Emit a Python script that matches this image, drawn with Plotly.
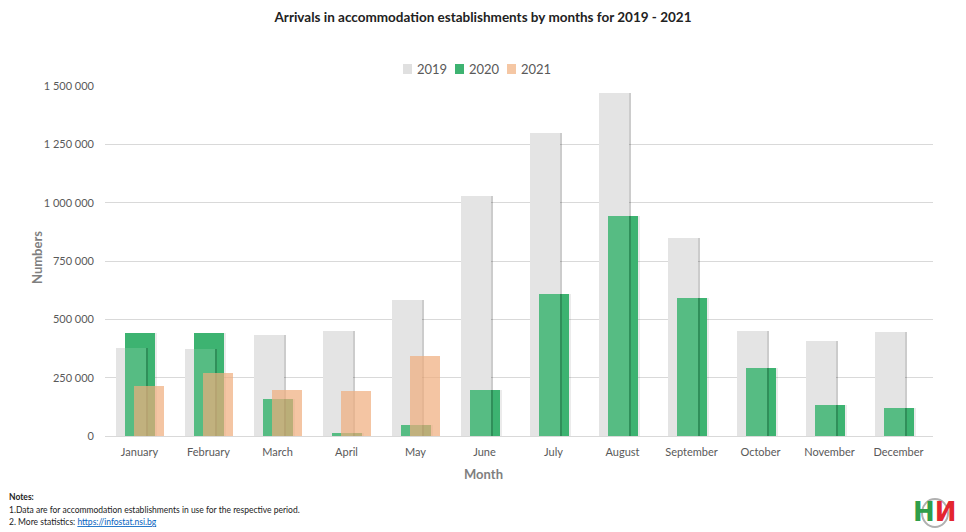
import plotly.graph_objects as go

# ---------------- data ----------------
months = ["January", "February", "March", "April", "May", "June", "July",
          "August", "September", "October", "November", "December"]
arrivals_2019 = [377000, 372000, 431000, 449000, 583000, 1027000, 1297000,
                 1469000, 847000, 452000, 408000, 446000]
arrivals_2020 = [440000, 441000, 159000, 12000, 48000, 197000, 608000,
                 944000, 591000, 291000, 133000, 119000]
arrivals_2021 = [214000, 270000, 197000, 193000, 344000, None, None,
                 None, None, None, None, None]
y_tick_values = [0, 250000, 500000, 750000, 1000000, 1250000, 1500000]
y_tick_labels = ["0", "250 000", "500 000", "750 000", "1 000 000",
                 "1 250 000", "1 500 000"]
series_names = ["2019", "2020", "2021"]

# ---------------- styling ----------------
FONT = "Lato"
TXT = "#595959"
GREY = "#e0e0e0"
GREEN = "rgb(61,179,113)"
PEACH = "rgba(240,172,124,0.70)"
W = 0.44
OFF_19, OFF_20, OFF_21 = -0.345, -0.21, -0.08

# plot area in pixels
L, R, T, B = 105, 933, 86, 436
def px(x):
    return (x - L) / (R - L)
def py(y):
    return (B - y) / (B - T)

fig = go.Figure()

def bar(y, color, offset, width, name=None):
    fig.add_trace(go.Bar(
        x=months, y=y, name=name, offset=offset, width=width,
        marker=dict(color=color, line=dict(width=0)),
        showlegend=False, hoverinfo="skip" if name is None else None))

# 2019 base
bar(arrivals_2019, GREY, OFF_19, W, series_names[0])
# 2020
bar(arrivals_2020, GREEN, OFF_20, W, series_names[1])
# soft shadow of 2020 bars
bar(arrivals_2020, "rgba(0,0,0,0.08)", OFF_20 + W, 0.03)
# soft shadow of 2019 bars
bar(arrivals_2019, "rgba(0,0,0,0.20)", OFF_19 + W, 0.032)
# translucent veil of 2019 over 2020
bar(arrivals_2019, "rgba(255,255,255,0.13)", OFF_19, W)
# 2021 on top
bar(arrivals_2021, PEACH, OFF_21, W, series_names[2])

fig.update_layout(
    width=966, height=532,
    margin=dict(l=L, r=966 - R, t=T, b=532 - B),
    paper_bgcolor="white", plot_bgcolor="white",
    barmode="overlay", bargap=0,
    font=dict(family=FONT, color=TXT, size=11),
    title=dict(text="<b>Arrivals in accommodation establishments by months for 2019 - 2021</b>",
               x=px(499) if False else 0.5, xanchor="center", y=1 - 17 / 532, yanchor="middle",
               yref="container", font=dict(family=FONT, size=13.5, color="#222222")),
    showlegend=False,
)

fig.update_xaxes(type="category", range=[-0.5, 11.5], showgrid=False,
                 showline=True, linecolor="#d9d9d9", linewidth=1,
                 ticks="", ticklabelstandoff=6,
                 tickfont=dict(family=FONT, size=11, color=TXT))
fig.update_yaxes(range=[0, 1500000], tickvals=y_tick_values, ticktext=y_tick_labels,
                 showgrid=True, gridcolor="#d9d9d9", gridwidth=1,
                 zeroline=False, showline=False, ticks="", ticklabelstandoff=10,
                 tickfont=dict(family=FONT, size=11, color=TXT))

ann = []
# axis titles
ann.append(dict(text="<b>Month</b>", x=px(483), y=py(474), xref="paper", yref="paper",
                showarrow=False, font=dict(family=FONT, size=13, color="#7f7f7f"),
                xanchor="center", yanchor="middle"))
ann.append(dict(text="<b>Numbers</b>", x=px(37), y=py(258), xref="paper", yref="paper",
                showarrow=False, textangle=-90, font=dict(family=FONT, size=13, color="#7f7f7f"),
                xanchor="center", yanchor="middle"))

# custom legend
legend_colors = [GREY, GREEN, "rgb(245,199,164)"]
legend_x = [403, 455, 507]
shapes = []
for name, col, lx in zip(series_names, legend_colors, legend_x):
    shapes.append(dict(type="rect", xref="paper", yref="paper",
                       x0=px(lx), x1=px(lx + 9), y0=py(74), y1=py(64),
                       fillcolor=col, line=dict(width=0)))
    ann.append(dict(text=name, x=px(lx + 12), y=py(69), xref="paper", yref="paper",
                    showarrow=False, xanchor="left", yanchor="middle",
                    font=dict(family=FONT, size=13, color=TXT)))

# notes
notes = [
    ("<b>Notes:</b>", 497),
    ("1.Data are for accommodation establishments in use for the respective period.", 510),
    ("2. More statistics: <a href='https://infostat.nsi.bg' style='color:#0563c1'><u>https://infostat.nsi.bg</u></a>", 522),
]
for txt, yy in notes:
    ann.append(dict(text=txt, x=px(7), y=py(yy), xref="paper", yref="paper",
                    showarrow=False, xanchor="left", yanchor="middle",
                    font=dict(family=FONT, size=8.5, color="#222222")))

# logo (approximation)
shapes.append(dict(type="circle", xref="paper", yref="paper",
                   x0=px(922), x1=px(948), y0=py(527), y1=py(499),
                   line=dict(color="#b0b0b0", width=2), fillcolor="rgba(0,0,0,0)"))
ann.append(dict(text="<b><span style='color:#2f9e4a'>Н</span><span style='color:#e3262f'>И</span></b>",
                x=px(935), y=py(512), xref="paper", yref="paper", showarrow=False,
                xanchor="center", yanchor="middle",
                font=dict(family="DejaVu Sans", size=26)))

fig.update_layout(annotations=ann, shapes=shapes)
fig.write_html("out.html")
